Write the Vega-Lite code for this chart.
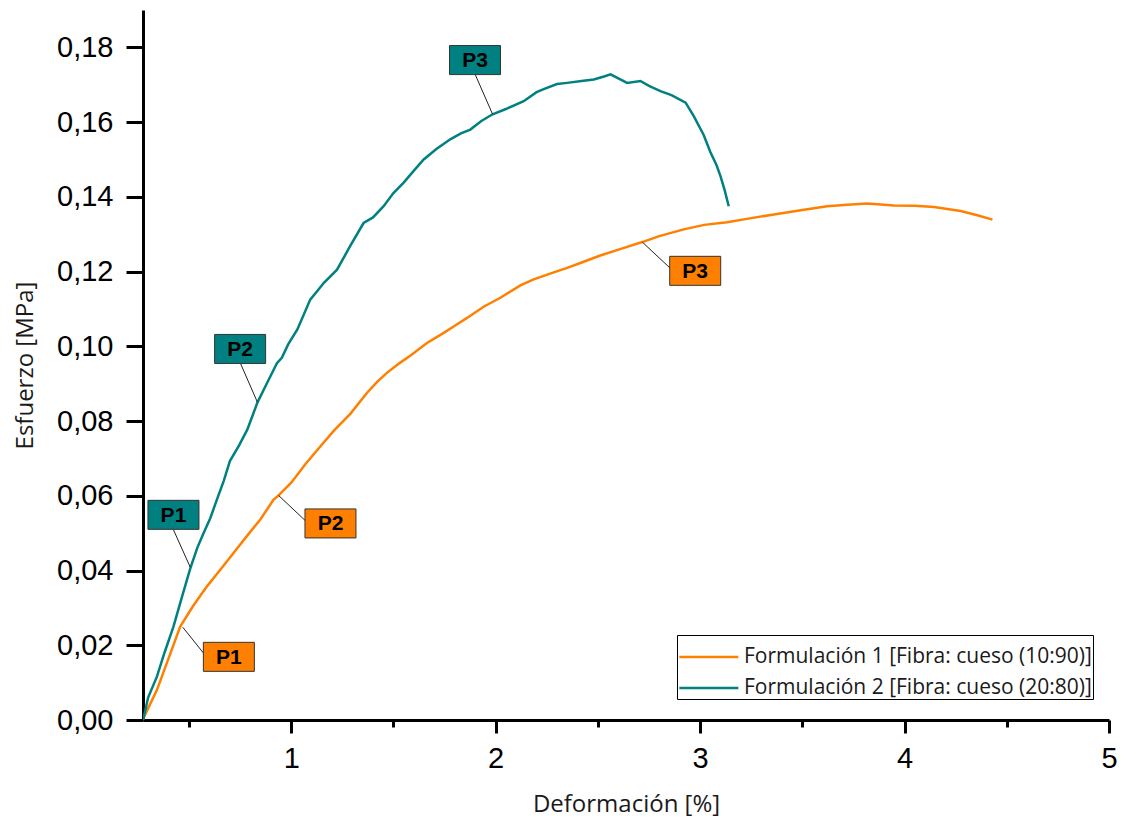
{
  "$schema": "https://vega.github.io/schema/vega-lite/v6.json",
  "autosize": {"type": "none"},
  "width": 966,
  "height": 710,
  "padding": {"left": 143, "top": 10, "right": 14, "bottom": 103},
  "background": "white",
  "config": {
    "view": {"stroke": null},
    "axis": {
      "domainColor": "black",
      "domainWidth": 3,
      "tickColor": "black",
      "tickWidth": 3,
      "grid": false,
      "labelFont": "Liberation Sans",
      "labelFontSize": 29,
      "labelColor": "black",
      "titleFont": "Open Sans",
      "titleFontSize": 24,
      "titleFontWeight": "normal",
      "titleColor": "#1a1a1a"
    }
  },
  "datasets": {
    "curvas": [
      {"serie": "Formulación 1 [Fibra: cueso (10:90)]", "def": 0.277, "esf": 0.0005},
      {"serie": "Formulación 1 [Fibra: cueso (10:90)]", "def": 0.343, "esf": 0.008},
      {"serie": "Formulación 1 [Fibra: cueso (10:90)]", "def": 0.40, "esf": 0.0165},
      {"serie": "Formulación 1 [Fibra: cueso (10:90)]", "def": 0.457, "esf": 0.025},
      {"serie": "Formulación 1 [Fibra: cueso (10:90)]", "def": 0.52, "esf": 0.0305},
      {"serie": "Formulación 1 [Fibra: cueso (10:90)]", "def": 0.587, "esf": 0.0357},
      {"serie": "Formulación 1 [Fibra: cueso (10:90)]", "def": 0.65, "esf": 0.040},
      {"serie": "Formulación 1 [Fibra: cueso (10:90)]", "def": 0.717, "esf": 0.0446},
      {"serie": "Formulación 1 [Fibra: cueso (10:90)]", "def": 0.78, "esf": 0.049},
      {"serie": "Formulación 1 [Fibra: cueso (10:90)]", "def": 0.848, "esf": 0.0536},
      {"serie": "Formulación 1 [Fibra: cueso (10:90)]", "def": 0.913, "esf": 0.0589},
      {"serie": "Formulación 1 [Fibra: cueso (10:90)]", "def": 0.938, "esf": 0.0601},
      {"serie": "Formulación 1 [Fibra: cueso (10:90)]", "def": 1.00, "esf": 0.0635},
      {"serie": "Formulación 1 [Fibra: cueso (10:90)]", "def": 1.07, "esf": 0.0685},
      {"serie": "Formulación 1 [Fibra: cueso (10:90)]", "def": 1.142, "esf": 0.0732},
      {"serie": "Formulación 1 [Fibra: cueso (10:90)]", "def": 1.21, "esf": 0.0775},
      {"serie": "Formulación 1 [Fibra: cueso (10:90)]", "def": 1.29, "esf": 0.082},
      {"serie": "Formulación 1 [Fibra: cueso (10:90)]", "def": 1.37, "esf": 0.0875},
      {"serie": "Formulación 1 [Fibra: cueso (10:90)]", "def": 1.42, "esf": 0.0905},
      {"serie": "Formulación 1 [Fibra: cueso (10:90)]", "def": 1.468, "esf": 0.0929},
      {"serie": "Formulación 1 [Fibra: cueso (10:90)]", "def": 1.53, "esf": 0.0955},
      {"serie": "Formulación 1 [Fibra: cueso (10:90)]", "def": 1.582, "esf": 0.0975},
      {"serie": "Formulación 1 [Fibra: cueso (10:90)]", "def": 1.664, "esf": 0.1009},
      {"serie": "Formulación 1 [Fibra: cueso (10:90)]", "def": 1.746, "esf": 0.1036},
      {"serie": "Formulación 1 [Fibra: cueso (10:90)]", "def": 1.80, "esf": 0.1055},
      {"serie": "Formulación 1 [Fibra: cueso (10:90)]", "def": 1.86, "esf": 0.1076},
      {"serie": "Formulación 1 [Fibra: cueso (10:90)]", "def": 1.941, "esf": 0.1106},
      {"serie": "Formulación 1 [Fibra: cueso (10:90)]", "def": 2.023, "esf": 0.1130},
      {"serie": "Formulación 1 [Fibra: cueso (10:90)]", "def": 2.121, "esf": 0.1163},
      {"serie": "Formulación 1 [Fibra: cueso (10:90)]", "def": 2.186, "esf": 0.1179},
      {"serie": "Formulación 1 [Fibra: cueso (10:90)]", "def": 2.284, "esf": 0.1198},
      {"serie": "Formulación 1 [Fibra: cueso (10:90)]", "def": 2.35, "esf": 0.1210},
      {"serie": "Formulación 1 [Fibra: cueso (10:90)]", "def": 2.414, "esf": 0.1223},
      {"serie": "Formulación 1 [Fibra: cueso (10:90)]", "def": 2.512, "esf": 0.1243},
      {"serie": "Formulación 1 [Fibra: cueso (10:90)]", "def": 2.62, "esf": 0.1262},
      {"serie": "Formulación 1 [Fibra: cueso (10:90)]", "def": 2.717, "esf": 0.1279},
      {"serie": "Formulación 1 [Fibra: cueso (10:90)]", "def": 2.80, "esf": 0.1295},
      {"serie": "Formulación 1 [Fibra: cueso (10:90)]", "def": 2.92, "esf": 0.1313},
      {"serie": "Formulación 1 [Fibra: cueso (10:90)]", "def": 3.02, "esf": 0.1325},
      {"serie": "Formulación 1 [Fibra: cueso (10:90)]", "def": 3.132, "esf": 0.1332},
      {"serie": "Formulación 1 [Fibra: cueso (10:90)]", "def": 3.25, "esf": 0.1343},
      {"serie": "Formulación 1 [Fibra: cueso (10:90)]", "def": 3.361, "esf": 0.1353},
      {"serie": "Formulación 1 [Fibra: cueso (10:90)]", "def": 3.50, "esf": 0.1365},
      {"serie": "Formulación 1 [Fibra: cueso (10:90)]", "def": 3.622, "esf": 0.1375},
      {"serie": "Formulación 1 [Fibra: cueso (10:90)]", "def": 3.72, "esf": 0.1379},
      {"serie": "Formulación 1 [Fibra: cueso (10:90)]", "def": 3.817, "esf": 0.1382},
      {"serie": "Formulación 1 [Fibra: cueso (10:90)]", "def": 3.948, "esf": 0.1377},
      {"serie": "Formulación 1 [Fibra: cueso (10:90)]", "def": 4.05, "esf": 0.1376},
      {"serie": "Formulación 1 [Fibra: cueso (10:90)]", "def": 4.144, "esf": 0.1373},
      {"serie": "Formulación 1 [Fibra: cueso (10:90)]", "def": 4.275, "esf": 0.1362},
      {"serie": "Formulación 1 [Fibra: cueso (10:90)]", "def": 4.36, "esf": 0.1350},
      {"serie": "Formulación 1 [Fibra: cueso (10:90)]", "def": 4.43, "esf": 0.1339},
      {"serie": "Formulación 2 [Fibra: cueso (20:80)]", "def": 0.276, "esf": 0.0},
      {"serie": "Formulación 2 [Fibra: cueso (20:80)]", "def": 0.300, "esf": 0.006},
      {"serie": "Formulación 2 [Fibra: cueso (20:80)]", "def": 0.343, "esf": 0.0116},
      {"serie": "Formulación 2 [Fibra: cueso (20:80)]", "def": 0.38, "esf": 0.018},
      {"serie": "Formulación 2 [Fibra: cueso (20:80)]", "def": 0.424, "esf": 0.025},
      {"serie": "Formulación 2 [Fibra: cueso (20:80)]", "def": 0.466, "esf": 0.033},
      {"serie": "Formulación 2 [Fibra: cueso (20:80)]", "def": 0.506, "esf": 0.0405},
      {"serie": "Formulación 2 [Fibra: cueso (20:80)]", "def": 0.540, "esf": 0.046},
      {"serie": "Formulación 2 [Fibra: cueso (20:80)]", "def": 0.571, "esf": 0.050},
      {"serie": "Formulación 2 [Fibra: cueso (20:80)]", "def": 0.604, "esf": 0.054},
      {"serie": "Formulación 2 [Fibra: cueso (20:80)]", "def": 0.636, "esf": 0.0589},
      {"serie": "Formulación 2 [Fibra: cueso (20:80)]", "def": 0.670, "esf": 0.064},
      {"serie": "Formulación 2 [Fibra: cueso (20:80)]", "def": 0.700, "esf": 0.0693},
      {"serie": "Formulación 2 [Fibra: cueso (20:80)]", "def": 0.745, "esf": 0.0735},
      {"serie": "Formulación 2 [Fibra: cueso (20:80)]", "def": 0.785, "esf": 0.0777},
      {"serie": "Formulación 2 [Fibra: cueso (20:80)]", "def": 0.835, "esf": 0.0850},
      {"serie": "Formulación 2 [Fibra: cueso (20:80)]", "def": 0.880, "esf": 0.0900},
      {"serie": "Formulación 2 [Fibra: cueso (20:80)]", "def": 0.930, "esf": 0.0955},
      {"serie": "Formulación 2 [Fibra: cueso (20:80)]", "def": 0.954, "esf": 0.0969},
      {"serie": "Formulación 2 [Fibra: cueso (20:80)]", "def": 0.985, "esf": 0.1005},
      {"serie": "Formulación 2 [Fibra: cueso (20:80)]", "def": 1.030, "esf": 0.1045},
      {"serie": "Formulación 2 [Fibra: cueso (20:80)]", "def": 1.093, "esf": 0.1125},
      {"serie": "Formulación 2 [Fibra: cueso (20:80)]", "def": 1.160, "esf": 0.1170},
      {"serie": "Formulación 2 [Fibra: cueso (20:80)]", "def": 1.224, "esf": 0.1205},
      {"serie": "Formulación 2 [Fibra: cueso (20:80)]", "def": 1.290, "esf": 0.1270},
      {"serie": "Formulación 2 [Fibra: cueso (20:80)]", "def": 1.354, "esf": 0.1330},
      {"serie": "Formulación 2 [Fibra: cueso (20:80)]", "def": 1.400, "esf": 0.1345},
      {"serie": "Formulación 2 [Fibra: cueso (20:80)]", "def": 1.452, "esf": 0.1375},
      {"serie": "Formulación 2 [Fibra: cueso (20:80)]", "def": 1.500, "esf": 0.1410},
      {"serie": "Formulación 2 [Fibra: cueso (20:80)]", "def": 1.550, "esf": 0.1438},
      {"serie": "Formulación 2 [Fibra: cueso (20:80)]", "def": 1.600, "esf": 0.1470},
      {"serie": "Formulación 2 [Fibra: cueso (20:80)]", "def": 1.648, "esf": 0.1500},
      {"serie": "Formulación 2 [Fibra: cueso (20:80)]", "def": 1.710, "esf": 0.1528},
      {"serie": "Formulación 2 [Fibra: cueso (20:80)]", "def": 1.778, "esf": 0.1554},
      {"serie": "Formulación 2 [Fibra: cueso (20:80)]", "def": 1.830, "esf": 0.1570},
      {"serie": "Formulación 2 [Fibra: cueso (20:80)]", "def": 1.876, "esf": 0.1580},
      {"serie": "Formulación 2 [Fibra: cueso (20:80)]", "def": 1.930, "esf": 0.1603},
      {"serie": "Formulación 2 [Fibra: cueso (20:80)]", "def": 1.985, "esf": 0.1621},
      {"serie": "Formulación 2 [Fibra: cueso (20:80)]", "def": 2.050, "esf": 0.1635},
      {"serie": "Formulación 2 [Fibra: cueso (20:80)]", "def": 2.137, "esf": 0.1656},
      {"serie": "Formulación 2 [Fibra: cueso (20:80)]", "def": 2.200, "esf": 0.1680},
      {"serie": "Formulación 2 [Fibra: cueso (20:80)]", "def": 2.235, "esf": 0.1688},
      {"serie": "Formulación 2 [Fibra: cueso (20:80)]", "def": 2.300, "esf": 0.1702},
      {"serie": "Formulación 2 [Fibra: cueso (20:80)]", "def": 2.350, "esf": 0.1705},
      {"serie": "Formulación 2 [Fibra: cueso (20:80)]", "def": 2.420, "esf": 0.1710},
      {"serie": "Formulación 2 [Fibra: cueso (20:80)]", "def": 2.480, "esf": 0.1714},
      {"serie": "Formulación 2 [Fibra: cueso (20:80)]", "def": 2.530, "esf": 0.1722},
      {"serie": "Formulación 2 [Fibra: cueso (20:80)]", "def": 2.562, "esf": 0.1728},
      {"serie": "Formulación 2 [Fibra: cueso (20:80)]", "def": 2.600, "esf": 0.1717},
      {"serie": "Formulación 2 [Fibra: cueso (20:80)]", "def": 2.643, "esf": 0.1705},
      {"serie": "Formulación 2 [Fibra: cueso (20:80)]", "def": 2.708, "esf": 0.1710},
      {"serie": "Formulación 2 [Fibra: cueso (20:80)]", "def": 2.750, "esf": 0.1697},
      {"serie": "Formulación 2 [Fibra: cueso (20:80)]", "def": 2.806, "esf": 0.1683},
      {"serie": "Formulación 2 [Fibra: cueso (20:80)]", "def": 2.860, "esf": 0.1672},
      {"serie": "Formulación 2 [Fibra: cueso (20:80)]", "def": 2.929, "esf": 0.1652},
      {"serie": "Formulación 2 [Fibra: cueso (20:80)]", "def": 2.969, "esf": 0.1616},
      {"serie": "Formulación 2 [Fibra: cueso (20:80)]", "def": 3.018, "esf": 0.1565},
      {"serie": "Formulación 2 [Fibra: cueso (20:80)]", "def": 3.050, "esf": 0.1520},
      {"serie": "Formulación 2 [Fibra: cueso (20:80)]", "def": 3.080, "esf": 0.1485},
      {"serie": "Formulación 2 [Fibra: cueso (20:80)]", "def": 3.100, "esf": 0.1455},
      {"serie": "Formulación 2 [Fibra: cueso (20:80)]", "def": 3.120, "esf": 0.1418},
      {"serie": "Formulación 2 [Fibra: cueso (20:80)]", "def": 3.140, "esf": 0.1375}
    ],
    "etiquetas": [
      {"serie": "Formulación 1 [Fibra: cueso (10:90)]", "etiqueta": "P1", "xe": 0.695, "ye": 0.0169, "xl": 0.571, "yl": 0.0179, "xp": 0.470, "yp": 0.0248},
      {"serie": "Formulación 1 [Fibra: cueso (10:90)]", "etiqueta": "P2", "xe": 1.192, "ye": 0.0526, "xl": 1.068, "yl": 0.0534, "xp": 0.938, "yp": 0.0601},
      {"serie": "Formulación 1 [Fibra: cueso (10:90)]", "etiqueta": "P3", "xe": 2.976, "ye": 0.1202, "xl": 2.852, "yl": 0.1210, "xp": 2.717, "yp": 0.1279},
      {"serie": "Formulación 2 [Fibra: cueso (20:80)]", "etiqueta": "P1", "xe": 0.424, "ye": 0.0549, "xl": 0.424, "yl": 0.0509, "xp": 0.506, "yp": 0.0409},
      {"serie": "Formulación 2 [Fibra: cueso (20:80)]", "etiqueta": "P2", "xe": 0.750, "ye": 0.0993, "xl": 0.752, "yl": 0.0954, "xp": 0.835, "yp": 0.0850},
      {"serie": "Formulación 2 [Fibra: cueso (20:80)]", "etiqueta": "P3", "xe": 1.899, "ye": 0.1766, "xl": 1.901, "yl": 0.1726, "xp": 1.985, "yp": 0.1621}
    ]
  },
  "layer": [
    {
      "data": {"name": "curvas"},
      "mark": {"type": "line", "strokeWidth": 2.5, "clip": true},
      "encoding": {
        "x": {
          "field": "def", "type": "quantitative",
          "scale": {"domain": [0.275, 5], "nice": false, "zero": false},
          "axis": {
            "title": "Deformación [%]",
            "values": [0.5, 1, 1.5, 2, 2.5, 3, 3.5, 4, 4.5, 5],
            "labelExpr": "datum.value % 1 == 0 ? format(datum.value, 'd') : ''",
            "tickSize": {"condition": {"test": "datum.value % 1 == 0", "value": 13}, "value": 7},
            "labelPadding": 11,
            "titlePadding": 19,
            "labelFlush": false
          }
        },
        "y": {
          "field": "esf", "type": "quantitative",
          "scale": {"domain": [0, 0.19], "nice": false},
          "axis": {
            "title": "Esfuerzo [MPa]",
            "values": [0, 0.01, 0.02, 0.03, 0.04, 0.05, 0.06, 0.07, 0.08, 0.09, 0.1, 0.11, 0.12, 0.13, 0.14, 0.15, 0.16, 0.17, 0.18, 0.19],
            "labelExpr": "round(datum.value * 100) % 2 == 0 ? replace(format(datum.value, '.2f'), '.', ',') : ''",
            "tickSize": {"condition": {"test": "round(datum.value * 100) % 2 == 0", "value": 17}, "value": 10},
            "labelPadding": 13,
            "titlePadding": 19,
            "labelFlush": false
          }
        },
        "color": {
          "field": "serie", "type": "nominal",
          "scale": {
            "domain": ["Formulación 1 [Fibra: cueso (10:90)]", "Formulación 2 [Fibra: cueso (20:80)]"],
            "range": ["#FF8000", "#008080"]
          },
          "legend": {
            "title": null,
            "orient": "none",
            "legendX": 534,
            "legendY": 625,
            "symbolType": "M-1,0H2",
            "symbolSize": 1547,
            "symbolStrokeWidth": 2.5,
            "labelFont": "Open Sans",
            "labelFontSize": 21,
            "labelColor": "#1a1a1a",
            "labelLimit": 500,
            "labelOffset": 24,
            "strokeColor": "black",
            "padding": 1,
            "rowPadding": -1
          }
        },
        "detail": {"field": "serie"}
      }
    },
    {
      "data": {"name": "etiquetas"},
      "mark": {"type": "rule", "color": "#222", "strokeWidth": 1},
      "encoding": {
        "x": {"field": "xl", "type": "quantitative"},
        "y": {"field": "yl", "type": "quantitative"},
        "x2": {"field": "xp"},
        "y2": {"field": "yp"}
      }
    },
    {
      "data": {"name": "etiquetas"},
      "mark": {
        "type": "point",
        "shape": "M-1,-0.569H1V0.569H-1Z",
        "size": 2601,
        "filled": true,
        "opacity": 1,
        "stroke": "#333",
        "strokeWidth": 1
      },
      "encoding": {
        "x": {"field": "xe", "type": "quantitative"},
        "y": {"field": "ye", "type": "quantitative"},
        "fill": {
          "field": "serie", "type": "nominal",
          "scale": {
            "domain": ["Formulación 1 [Fibra: cueso (10:90)]", "Formulación 2 [Fibra: cueso (20:80)]"],
            "range": ["#FF8000", "#008080"]
          },
          "legend": null
        }
      }
    },
    {
      "data": {"name": "etiquetas"},
      "mark": {
        "type": "text",
        "font": "Liberation Sans",
        "fontSize": 21,
        "fontWeight": "bold",
        "color": "black",
        "align": "center",
        "baseline": "middle",
        "dy": 1
      },
      "encoding": {
        "x": {"field": "xe", "type": "quantitative"},
        "y": {"field": "ye", "type": "quantitative"},
        "text": {"field": "etiqueta"}
      }
    }
  ]
}
